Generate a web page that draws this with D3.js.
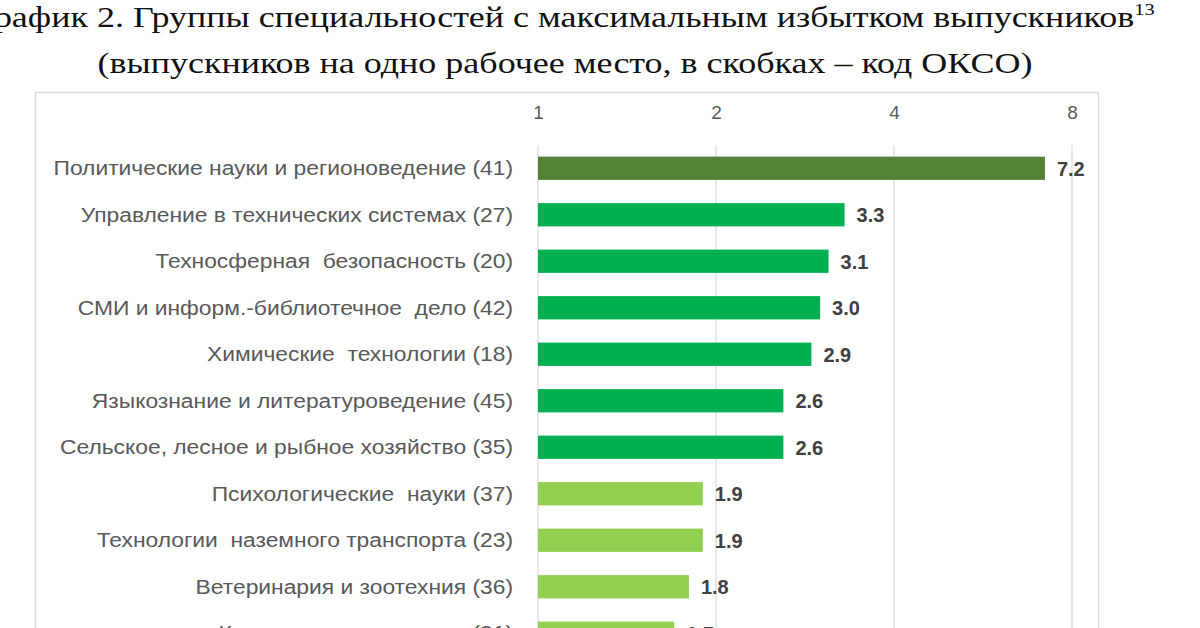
<!DOCTYPE html>
<html><head><meta charset="utf-8">
<script src="https://cdn.jsdelivr.net/npm/d3@7"></script>
<style>
html,body{margin:0;padding:0;background:#fff;overflow:hidden;}
svg{display:block;}
</style></head>
<body>
<svg id="chart" width="1200" height="628"></svg>
<script>
const titleLine1 = "График 2. Группы специальностей с максимальным избытком выпускников";
const titleSup = "13";
const titleLine2 = "(выпускников на одно рабочее место, в скобках – код ОКСО)";
const categories = [
  "Политические науки и регионоведение (41)",
  "Управление в технических системах (27)",
  "Техносферная  безопасность (20)",
  "СМИ и информ.-библиотечное  дело (42)",
  "Химические  технологии (18)",
  "Языкознание и литературоведение (45)",
  "Сельское, лесное и рыбное хозяйство (35)",
  "Психологические  науки (37)",
  "Технологии  наземного транспорта (23)",
  "Ветеринария и зоотехния (36)",
  "Клиническая медицина (31)"
];
const values = [7.2, 3.3, 3.1, 3.0, 2.9, 2.6, 2.6, 1.9, 1.9, 1.8, 1.7];
const groups = ["high","mid","mid","mid","mid","mid","mid","low","low","low","low"];
const tickValues = [1, 2, 4, 8];

const svg = d3.select("#chart");
const color = d3.scaleOrdinal().domain(["high","mid","low"]).range(["#538135","#00B050","#92D050"]);
const serif = "'Liberation Serif', 'Times New Roman', serif";
const sans = "'Liberation Sans', Arial, sans-serif";

// Title (source image is slightly stretched horizontally)
const t1 = svg.append("text").attr("transform","translate(565,27) scale(1.2,1)").attr("text-anchor","middle")
  .style("font-family",serif).style("font-size","30px").attr("fill","#111");
t1.append("tspan").text(titleLine1);
t1.append("tspan").attr("dy",-12).style("font-size","17px").text(titleSup);
svg.append("text").attr("transform","translate(565,73) scale(1.2,1)").attr("text-anchor","middle")
  .style("font-family",serif).style("font-size","30px").attr("fill","#111")
  .text(titleLine2);

// Frame
svg.append("rect").attr("x",35.5).attr("y",92.5).attr("width",1063).attr("height",600)
  .attr("fill","none").attr("stroke","#d9d9d9").attr("stroke-width",1.5);

const x = d3.scaleLog().base(2).domain([1, 8]).range([538, 1072]);
const y = d3.scaleBand().domain(categories).range([145, 145 + categories.length * 46.5])
  .paddingInner(0.5).paddingOuter(0.25);

// Gridlines
svg.append("g").selectAll("line").data(tickValues).join("line")
  .attr("x1", d => x(d)).attr("x2", d => x(d))
  .attr("y1", 145).attr("y2", 640)
  .attr("stroke","#d9d9d9").attr("stroke-width",1.2);

// Top axis
const axis = d3.axisTop(x).tickValues(tickValues).tickFormat(d3.format("d")).tickSize(0).tickPadding(0);
const ax = svg.append("g").attr("transform","translate(0,119)").call(axis);
ax.select(".domain").remove();
ax.selectAll("text").attr("fill","#595959")
  .style("font-family",sans).style("font-size","19px");

// Bars
svg.append("g").selectAll("rect").data(values).join("rect")
  .attr("x", x(1))
  .attr("y", (d,i) => y(categories[i]))
  .attr("width", d => x(d) - x(1))
  .attr("height", y.bandwidth())
  .attr("fill", (d,i) => color(groups[i]));

// Category labels
svg.append("g").selectAll("text").data(categories).join("text")
  .attr("transform", d => `translate(513,${y(d) + y.bandwidth()/2}) scale(1.17,1)`)
  .attr("dy","0.36em").attr("text-anchor","end")
  .style("white-space","pre")
  .style("font-family",sans).style("font-size","19.5px")
  .attr("fill","#595959")
  .text(d => d);

// Value labels
svg.append("g").selectAll("text").data(values).join("text")
  .attr("x", d => x(d) + 12).attr("y", (d,i) => y(categories[i]) + y.bandwidth()/2)
  .attr("dy","0.38em")
  .style("font-family",sans).style("font-size","20px").style("font-weight","bold")
  .attr("fill","#404040")
  .text(d => d.toFixed(1));
</script>
</body></html>
